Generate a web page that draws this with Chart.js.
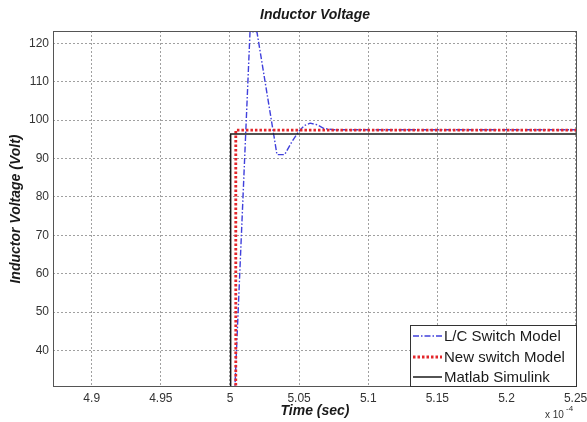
<!DOCTYPE html>
<html>
<head>
<meta charset="utf-8">
<script src="https://cdn.jsdelivr.net/npm/chart.js@4/dist/chart.umd.min.js"></script>
<style>
  html, body { margin: 0; padding: 0; background: #fff; }
  #wrap { width: 587px; height: 422px; position: relative; }
</style>
</head>
<body>
<div id="wrap"><canvas id="chartVoltage"></canvas></div>
<script>
// Datos (tiempo en unidades de 1e-4 s, tensión en V)
const lcTime  = [4.872, 5.0, 5.0145, 5.0195, 5.034, 5.0395, 5.045, 5.050, 5.054, 5.058, 5.063, 5.068, 5.075, 5.251];
const lcVolt  = [0,     0,   123,    123,    91,    91,     94.5,  97.2,  98.6,  99.2,  98.8,  97.8,  97.5,  97.5];
const newTime = [4.872, 5.0042, 5.0042, 5.251];
const newVolt = [0,     0,      97.4,   97.4];
const simTime = [4.872, 5.0005, 5.0005, 5.251];
const simVolt = [0,     0,      96.4,   96.4];

const seriesNames = ['L/C Switch Model', 'New switch Model', 'Matlab Simulink'];
const xTicks = [4.9, 4.95, 5, 5.05, 5.1, 5.15, 5.2, 5.25];
const yTicks = [40, 50, 60, 70, 80, 90, 100, 110, 120];

const FONT = "'Liberation Sans', Arial, sans-serif";

const toPoints = (xs, ys) => xs.map((x, i) => ({ x, y: ys[i] }));

// Marco, título, leyenda y exponente del eje X
const decorPlugin = {
  id: 'decor',
  afterDatasetsDraw(chart) {
    const { ctx, chartArea: a } = chart;
    ctx.save();
    ctx.strokeStyle = '#555';
    ctx.lineWidth = 1;
    ctx.setLineDash([]);
    ctx.strokeRect(Math.round(a.left) + 0.5, Math.round(a.top) + 0.5,
      Math.round(a.right - a.left) - 1, Math.round(a.bottom - a.top) - 1);

    // Leyenda
    const bw = 167, bh = 62;
    const bx = a.right - bw, by = a.bottom - bh;
    ctx.fillStyle = '#fff';
    ctx.fillRect(bx, by, bw, bh);
    ctx.strokeStyle = '#333';
    ctx.strokeRect(Math.round(bx) + 0.5, Math.round(by) + 0.5, bw - 1, bh - 1);
    const rows = [by + 11, by + 32, by + 52];
    chart.data.datasets.forEach((ds, i) => {
      const y = rows[i];
      ctx.strokeStyle = ds.borderColor;
      ctx.lineWidth = ds.borderWidth;
      ctx.setLineDash(ds.borderDash || []);
      ctx.beginPath();
      ctx.moveTo(bx + 3, y);
      ctx.lineTo(bx + 32, y);
      ctx.stroke();
      ctx.setLineDash([]);
      ctx.fillStyle = '#1a1a1a';
      ctx.font = `15px ${FONT}`;
      ctx.textAlign = 'left';
      ctx.textBaseline = 'middle';
      ctx.fillText(seriesNames[i], bx + 34, y + 1);
    });
    ctx.restore();
  },
  afterDraw(chart) {
    const { ctx, chartArea: a } = chart;
    ctx.save();
    ctx.fillStyle = '#1a1a1a';
    ctx.font = `italic bold 14px ${FONT}`;
    ctx.textAlign = 'center';
    ctx.textBaseline = 'middle';
    ctx.fillText('Inductor Voltage', (a.left + a.right) / 2, 15);

    ctx.fillStyle = '#333';
    ctx.textAlign = 'left';
    ctx.font = `10px ${FONT}`;
    ctx.fillText('x 10', 545, 415);
    ctx.font = `8px ${FONT}`;
    ctx.fillText('-4', 566, 409);
    ctx.restore();
  },
};

new Chart(document.getElementById('chartVoltage'), {
  type: 'line',
  data: {
    datasets: [
      {
        label: seriesNames[0],
        data: toPoints(lcTime, lcVolt),
        borderColor: '#4040dc',
        borderWidth: 1.4,
        borderDash: [6, 2, 1.5, 2],
        order: 2,
      },
      {
        label: seriesNames[1],
        data: toPoints(newTime, newVolt),
        borderColor: '#e3262b',
        borderWidth: 2.8,
        borderDash: [2.5, 2],
        order: 1,
      },
      {
        label: seriesNames[2],
        data: toPoints(simTime, simVolt),
        borderColor: '#1a1a1a',
        borderWidth: 1.5,
        order: 0,
      },
    ],
  },
  options: {
    responsive: true,
    maintainAspectRatio: false,
    animation: false,
    events: [],
    layout: { padding: { left: 4, top: 31, right: 10, bottom: 0 } },
    elements: {
      point: { radius: 0 },
      line: { tension: 0, fill: false },
    },
    plugins: {
      legend: { display: false },
      title: { display: false },
      tooltip: { enabled: false },
    },
    scales: {
      x: {
        type: 'linear',
        min: 4.872,
        max: 5.251,
        afterBuildTicks: s => { s.ticks = xTicks.map(v => ({ value: v })); },
        afterFit: s => { s.height = 35; s.paddingLeft = 0; s.paddingRight = 0; },
        grid: { color: '#a0a0a0', lineWidth: 1, drawTicks: false },
        border: { display: false, dash: [2, 2] },
        ticks: {
          padding: 4,
          color: '#333',
          font: { family: FONT, size: 12 },
          maxRotation: 0,
          autoSkip: false,
          callback: v => String(Number(v.toFixed(2))),
        },
        title: {
          display: true,
          text: 'Time (sec)',
          color: '#1a1a1a',
          font: { family: FONT, size: 14, style: 'italic', weight: 'bold' },
          padding: { top: 0, bottom: 2 },
        },
      },
      y: {
        min: 30.5,
        max: 123.2,
        afterBuildTicks: s => { s.ticks = yTicks.map(v => ({ value: v })); },
        afterFit: s => { s.width = 49; s.paddingTop = 0; s.paddingBottom = 0; },
        grid: { color: '#a0a0a0', lineWidth: 1, drawTicks: false },
        border: { display: false, dash: [2, 2] },
        ticks: {
          padding: 4,
          color: '#333',
          font: { family: FONT, size: 12 },
          autoSkip: false,
        },
        title: {
          display: true,
          text: 'Inductor Voltage (Volt)',
          color: '#1a1a1a',
          font: { family: FONT, size: 14, style: 'italic', weight: 'bold' },
          padding: { top: 4, bottom: 0 },
        },
      },
    },
  },
  plugins: [decorPlugin],
});
</script>
</body>
</html>
